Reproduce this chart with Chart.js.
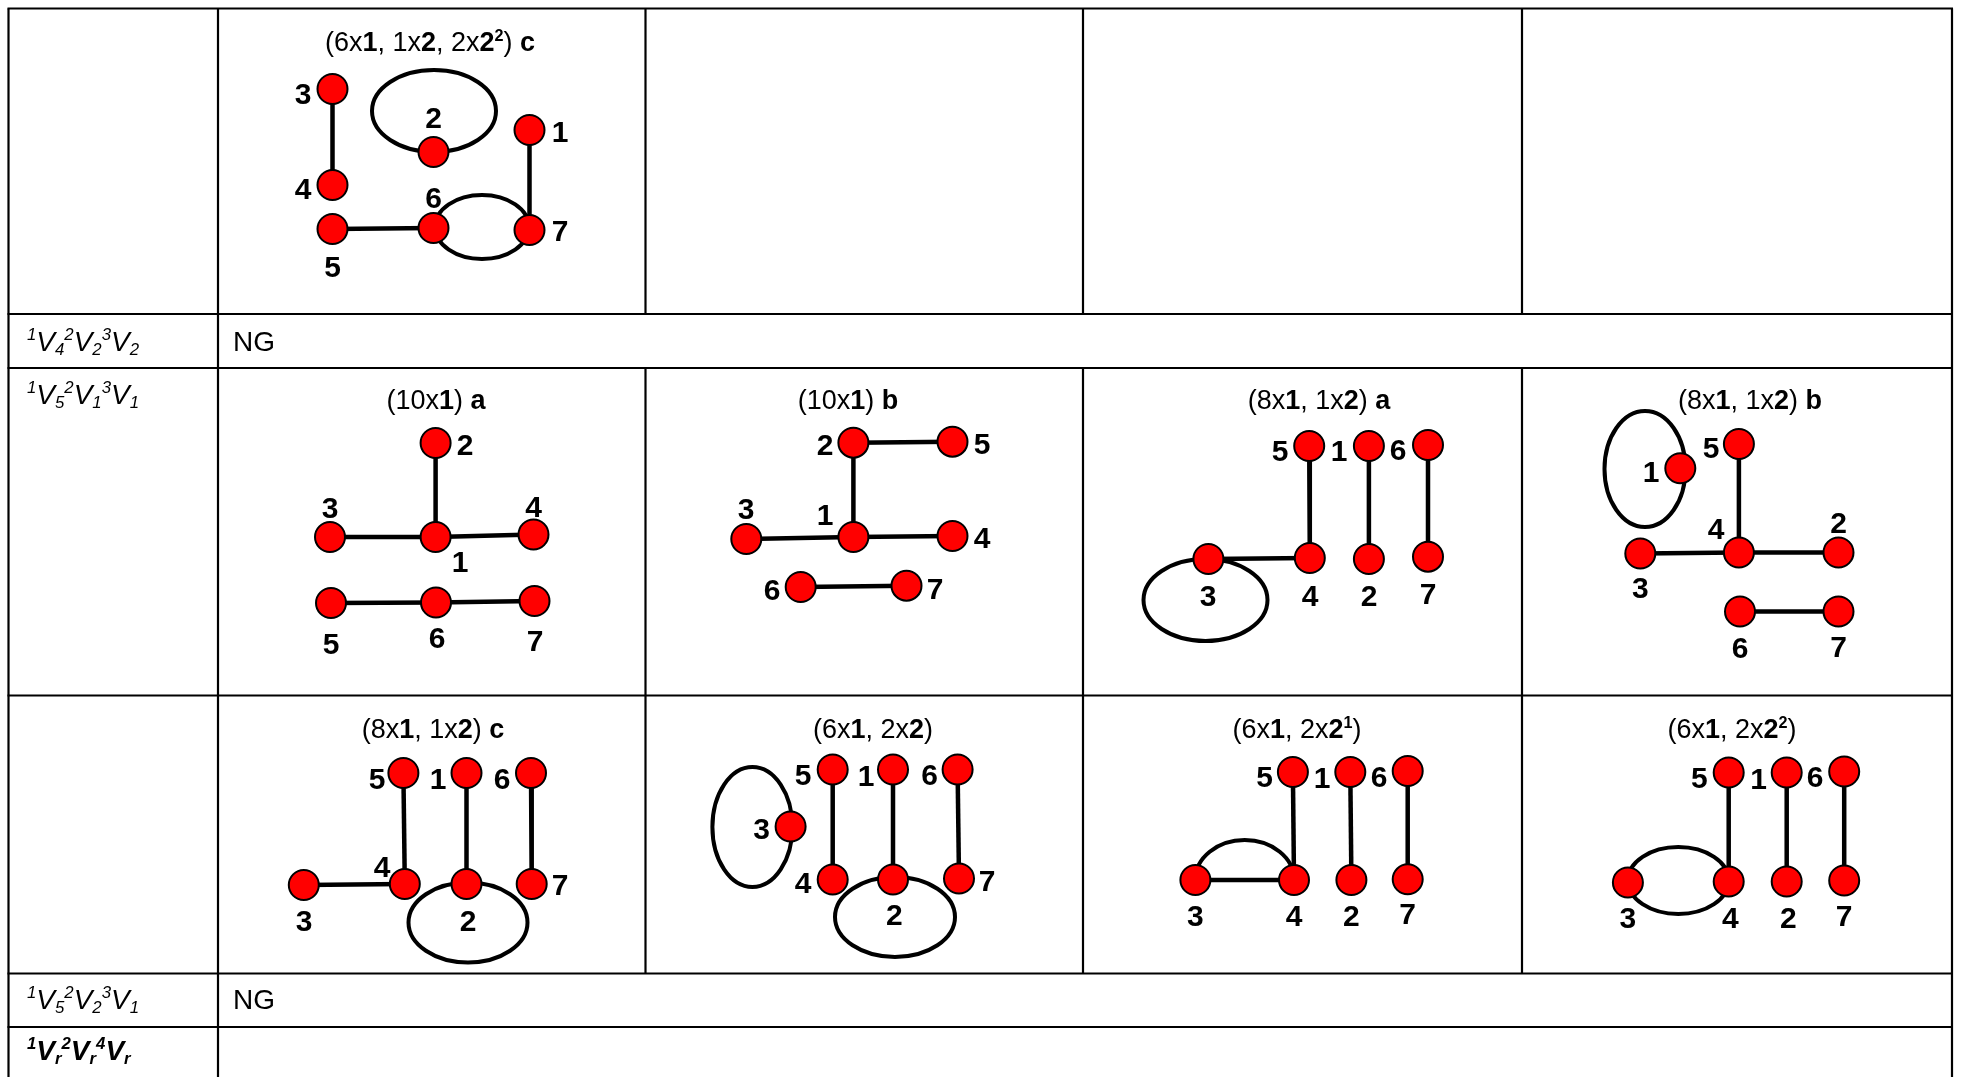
<!DOCTYPE html>
<html>
<head>
<meta charset="utf-8">
<script src="https://cdn.jsdelivr.net/npm/chart.js@4.4.1/dist/chart.umd.min.js"></script>
<style>
  html, body { margin: 0; padding: 0; background: #fff; }
  canvas { display: block; }
</style>
</head>
<body>
<canvas id="graphTable" width="1963" height="1077"></canvas>
<script>
// Titles of the nine graphs (*..* = bold, ^ = superscript)
const panelTitles = [
  '(6x*1*, 1x*2*, 2x*2^2*) *c*',
  '(10x*1*) *a*', '(10x*1*) *b*', '(8x*1*, 1x*2*) *a*', '(8x*1*, 1x*2*) *b*',
  '(8x*1*, 1x*2*) *c*', '(6x*1*, 2x*2*)', '(6x*1*, 2x*2^1*)', '(6x*1*, 2x*2^2*)'
];
const titleAnchors = [
  [430, 51], [436, 409], [848, 409], [1319, 409], [1750, 409],
  [433, 738], [873, 738], [1297, 738], [1732, 738]
];

// Vertex coordinates for vertices 1..7 of every graph
const panelNodes = [
  [[529.5, 130], [433.5, 152], [332.5, 89], [332.5, 185], [332.5, 229], [433.5, 228], [529.5, 230]],
  [[435.6, 537], [435.6, 443], [330, 537], [533.5, 534.5], [331, 603], [436, 602.5], [534.5, 601]],
  [[853.4, 537], [853.4, 442.7], [746.3, 539], [952.5, 536], [952.5, 441.7], [800.7, 587], [906.5, 585.7]],
  [[1368.9, 446], [1368.9, 559], [1208.4, 559], [1309.8, 558], [1309.2, 446], [1428, 445], [1428, 556.7]],
  [[1680.3, 468.3], [1838.5, 552.5], [1640.3, 553.5], [1738.9, 552.5], [1738.9, 444], [1740, 611.5], [1838.5, 611.5]],
  [[466.5, 773], [466.5, 884], [303.8, 885], [404.8, 884], [403.4, 773], [531, 773], [531.7, 884]],
  [[893, 769.5], [893, 879.5], [790.6, 826.5], [832.7, 879.5], [832.7, 769.5], [957.6, 769.5], [959, 878.5]],
  [[1350.3, 772], [1351.4, 880], [1195.4, 880], [1294, 880], [1292.9, 772], [1407.7, 771], [1407.7, 879.3]],
  [[1786.7, 772.5], [1786.7, 881.5], [1627.9, 882.5], [1728.7, 881.5], [1728.7, 772.5], [1844.2, 771.5], [1844.2, 880.5]]
];

// Where the vertex numbers 1..7 are written
const panelLabels = [
  [[560, 131], [433.5, 117], [303, 93], [303, 188], [332.5, 266], [433.5, 197], [560, 230]],
  [[460, 561], [465, 444], [330, 507], [533.5, 506], [331, 643], [437, 637], [535, 640]],
  [[825, 514], [825, 444], [746, 508], [982, 537], [982, 443], [772, 589], [935, 588]],
  [[1339, 450], [1369, 595], [1208, 595], [1310, 595], [1280, 450], [1398, 449], [1428, 593]],
  [[1651, 471], [1838.5, 522], [1640.3, 587], [1716, 528], [1711, 447], [1740, 646.5], [1838.5, 645.5]],
  [[438, 778], [468, 920], [304, 920], [382, 866], [377, 778], [502, 778], [560, 884]],
  [[866, 775], [894.4, 914], [761.5, 828], [803, 882], [803, 774], [929.5, 774], [987, 880]],
  [[1322, 777], [1351.4, 915], [1195.4, 915], [1294, 915], [1264.5, 776], [1379, 776], [1407.7, 913]],
  [[1758.6, 778], [1788.4, 917], [1627.9, 917], [1730.4, 917], [1699.4, 777], [1815, 776], [1844.2, 915]]
];

// Straight edges, as vertex pairs
const panelEdges = [
  [[3, 4], [5, 6], [1, 7]],
  [[2, 1], [3, 1], [1, 4], [5, 6], [6, 7]],
  [[2, 5], [2, 1], [3, 1], [1, 4], [6, 7]],
  [[5, 4], [1, 2], [6, 7], [3, 4]],
  [[5, 4], [3, 4], [4, 2], [6, 7]],
  [[5, 4], [1, 2], [6, 7], [3, 4]],
  [[5, 4], [1, 2], [6, 7]],
  [[5, 4], [1, 2], [6, 7], [3, 4]],
  [[5, 4], [1, 2], [6, 7]]
];

// Loops and double edges: [centre x, centre y, radius x, radius y, upper half only]
const panelLoops = [
  [[434, 111, 62, 41, false], [482, 227, 47, 32, false]],
  [],
  [],
  [[1205.5, 600, 62, 41, false]],
  [[1645, 469, 40.5, 58, false]],
  [[468, 922.5, 59.5, 40, false]],
  [[752.4, 827, 40, 60, false], [895, 917, 60, 40, false]],
  [[1244.7, 880, 49.5, 40, true]],
  [[1678.3, 880.5, 50.5, 33.5, false]]
];

// First column texts (^ = superscript, _ = subscript)
const rowLabels = ['', '^1V_4^2V_2^3V_2', '^1V_5^2V_1^3V_1', '', '^1V_5^2V_2^3V_1', '^1V_r^2V_r^4V_r'];
const rowBaselines = [0, 351, 404, 0, 1009, 1060];
const ngRows = [1, 4];

// Table layout
const colEdges = [8.5, 218, 645.5, 1083, 1522, 1952];
const rowEdges = [8.5, 314, 368, 695.5, 973.5, 1027, 1077];
const splitRows = [0, 2, 3];

const FONT = '"Liberation Sans", Arial, Helvetica, sans-serif';

function drawRich(ctx, text, x, y, size, align, style) {
  const segs = [];
  let bold = false, mode = 0;
  for (const ch of text) {
    if (ch === '*') { bold = !bold; continue; }
    if (ch === '^') { mode = 1; continue; }
    if (ch === '_') { mode = -1; continue; }
    segs.push({ ch, bold, mode });
    mode = 0;
  }
  const fontFor = s => {
    const sz = s.mode ? size * 0.6 : size;
    const it = style.includes('italic') ? 'italic ' : '';
    const bd = (s.bold || style.includes('bold')) ? 'bold ' : '';
    return it + bd + sz + 'px ' + FONT;
  };
  let w = 0;
  segs.forEach(s => { ctx.font = fontFor(s); s.w = ctx.measureText(s.ch).width; w += s.w; });
  let cx = align === 'center' ? x - w / 2 : x;
  segs.forEach(s => {
    ctx.font = fontFor(s);
    const dy = s.mode === 1 ? -size * 0.38 : (s.mode === -1 ? size * 0.14 : 0);
    ctx.fillText(s.ch, cx, y + dy);
    cx += s.w;
  });
}

const tablePlugin = {
  id: 'tablePlugin',
  beforeDatasetsDraw(chart) {
    const ctx = chart.ctx;
    const px = v => chart.scales.x.getPixelForValue(v);
    const py = v => chart.scales.y.getPixelForValue(v);
    ctx.save();
    ctx.strokeStyle = '#000';
    ctx.lineWidth = 2.2;
    const line = (x1, y1, x2, y2) => {
      ctx.beginPath();
      ctx.moveTo(px(x1), py(y1));
      ctx.lineTo(px(x2), py(y2));
      ctx.stroke();
    };
    const left = colEdges[0], right = colEdges[colEdges.length - 1];
    rowEdges.slice(0, -1).forEach(y => line(left - 1, y, right + 1, y));
    line(left, rowEdges[0], left, 1077);
    line(right, rowEdges[0], right, 1077);
    line(colEdges[1], rowEdges[0], colEdges[1], 1077);
    splitRows.forEach(r => {
      for (let c = 2; c < colEdges.length - 1; c++) {
        line(colEdges[c], rowEdges[r], colEdges[c], rowEdges[r + 1]);
      }
    });

    // loops
    ctx.lineWidth = 4;
    panelLoops.forEach(loops => loops.forEach(([cx, cy, rx, ry, half]) => {
      ctx.beginPath();
      const rpx = Math.abs(px(cx + rx) - px(cx));
      const rpy = Math.abs(py(cy + ry) - py(cy));
      if (half) ctx.ellipse(px(cx), py(cy), rpx, rpy, 0, Math.PI, 2 * Math.PI);
      else ctx.ellipse(px(cx), py(cy), rpx, rpy, 0, 0, 2 * Math.PI);
      ctx.stroke();
    }));
    ctx.restore();
  },
  afterDatasetsDraw(chart) {
    const ctx = chart.ctx;
    const px = v => chart.scales.x.getPixelForValue(v);
    const py = v => chart.scales.y.getPixelForValue(v);
    ctx.save();
    ctx.fillStyle = '#000';
    ctx.textBaseline = 'alphabetic';

    // vertex numbers
    ctx.textAlign = 'center';
    ctx.font = 'bold 30px ' + FONT;
    panelLabels.forEach(labels => labels.forEach(([x, y], i) => {
      ctx.fillText(String(i + 1), px(x), py(y) + 11);
    }));

    // graph titles
    ctx.textAlign = 'left';
    panelTitles.forEach((t, i) => {
      drawRich(ctx, t, px(titleAnchors[i][0]), py(titleAnchors[i][1]), 27, 'center', 'normal');
    });

    // first column
    rowLabels.forEach((t, r) => {
      if (!t) return;
      const style = r === rowLabels.length - 1 ? 'bold italic' : 'italic';
      drawRich(ctx, t, px(27), py(rowBaselines[r]), 28, 'left', style);
    });
    ngRows.forEach(r => {
      ctx.font = '28px ' + FONT;
      ctx.fillText('NG', px(233), py(rowBaselines[r]));
    });
    ctx.restore();
  }
};

const datasets = [];
panelEdges.forEach((edges, p) => {
  edges.forEach(([a, b]) => {
    const na = panelNodes[p][a - 1], nb = panelNodes[p][b - 1];
    datasets.push({
      data: [{ x: na[0], y: na[1] }, { x: nb[0], y: nb[1] }],
      showLine: true,
      borderColor: '#000',
      borderWidth: 4.5,
      pointRadius: 0,
      order: 2
    });
  });
});
datasets.push({
  data: panelNodes.flat().map(([x, y]) => ({ x, y })),
  showLine: false,
  pointRadius: 15,
  pointBackgroundColor: '#ff0000',
  pointBorderColor: '#000',
  pointBorderWidth: 2,
  order: 0
});

new Chart(document.getElementById('graphTable').getContext('2d'), {
  type: 'scatter',
  data: { datasets },
  options: {
    responsive: false,
    devicePixelRatio: 1,
    animation: false,
    events: [],
    layout: { padding: 0, autoPadding: false },
    scales: {
      x: { type: 'linear', min: 0, max: 1963, display: false },
      y: { type: 'linear', min: 0, max: 1077, reverse: true, display: false }
    },
    plugins: {
      legend: { display: false },
      tooltip: { enabled: false }
    }
  },
  plugins: [tablePlugin]
});
</script>
</body>
</html>
